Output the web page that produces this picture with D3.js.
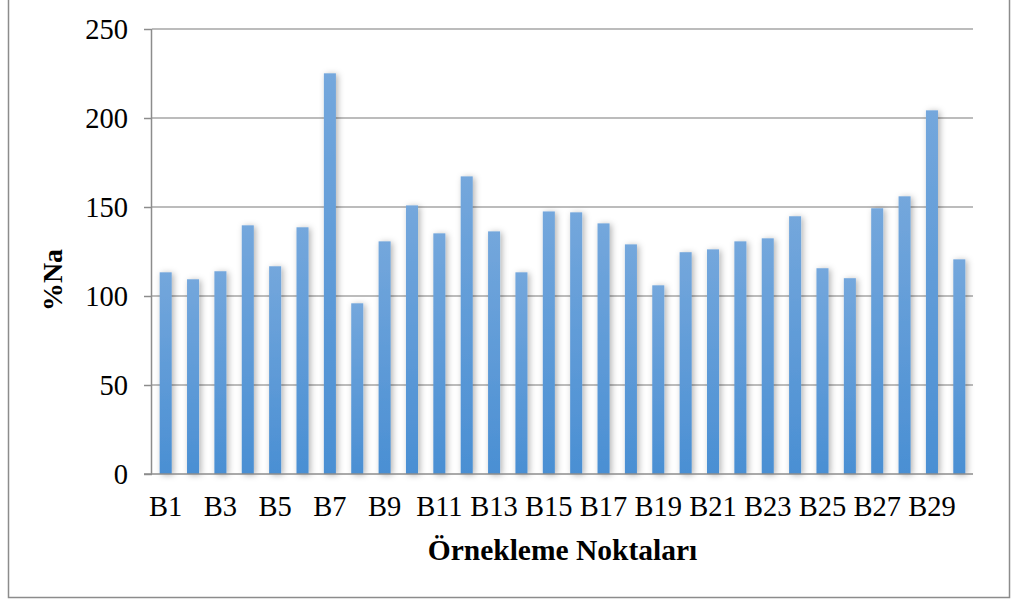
<!DOCTYPE html>
<html><head><meta charset="utf-8">
<script src="https://cdn.jsdelivr.net/npm/d3@7/dist/d3.min.js"></script>
<style>body{margin:0;background:#fff;}svg{display:block;}</style>
</head><body>
<svg id="c" width="1011" height="603"></svg>
<script>
const categories = ["B1","B2","B3","B4","B5","B6","B7","B8","B9","B10","B11","B12","B13","B14","B15","B16","B17","B18","B19","B20","B21","B22","B23","B24","B25","B26","B27","B28","B29","B30"];
const values = [113.3,109.4,113.9,139.7,116.7,138.6,225.1,95.9,130.7,150.9,135.2,167.2,136.3,113.3,147.5,147.0,140.8,129.0,106.0,124.6,126.2,130.7,132.4,144.8,115.6,110.0,149.3,156.0,204.3,120.6];
const yTicks = [0,50,100,150,200,250];
const xTickLabels = categories.filter((d,i)=>i%2===0);
const yTitle = "%Na";
const xTitle = "Örnekleme Noktaları";

const svg = d3.select("#c");
const font = "'Liberation Serif','Times New Roman',serif";
const L=152, R=973, T=29, B=474;

svg.append("rect").attr("x",8.5).attr("y",-2).attr("width",1001).attr("height",599.5)
  .attr("fill","#fff").attr("stroke","#8c8c8c").attr("stroke-width",1.5);

const defs = svg.append("defs");
const grad = defs.append("linearGradient").attr("id","bg").attr("x1",0).attr("y1",0).attr("x2",0).attr("y2",1);
grad.append("stop").attr("offset","0%").attr("stop-color","#74a7dc");
grad.append("stop").attr("offset","100%").attr("stop-color","#4a8fd3");
const f = defs.append("filter").attr("id","sh").attr("x","-100%").attr("y","-10%").attr("width","300%").attr("height","120%");
f.append("feDropShadow").attr("dx",2).attr("dy",1).attr("stdDeviation",3).attr("flood-color","#000").attr("flood-opacity",0.3);

const x = d3.scaleBand().domain(categories).range([L,R]).paddingInner(0.56).paddingOuter(0.28);
const y = d3.scaleLinear().domain([0,250]).range([B,T]);

// gridlines
svg.append("g").selectAll("line").data(yTicks.filter(d=>d>0)).join("line")
  .attr("x1",L).attr("x2",R).attr("y1",d=>y(d)).attr("y2",d=>y(d))
  .attr("stroke","#a6a6a6").attr("stroke-width",1.5);

// bars
svg.append("g").selectAll("rect").data(values).join("rect")
  .attr("x",(d,i)=>x(categories[i])).attr("width",x.bandwidth())
  .attr("y",d=>y(d)).attr("height",d=>B-y(d))
  .attr("fill","url(#bg)").attr("filter","url(#sh)");

// y axis
const ya = svg.append("g").attr("transform",`translate(${L},0)`)
  .call(d3.axisLeft(y).tickValues(yTicks).tickSize(8).tickPadding(16));
ya.select(".domain").attr("stroke","#8c8c8c").attr("stroke-width",1.5).attr("d",`M-0.5,${T}V${B}`);
ya.selectAll(".tick line").attr("stroke","#8c8c8c").attr("stroke-width",1.5);
ya.selectAll(".tick text").attr("font-family",font).attr("font-size",28.5).attr("fill","#000");

// x axis
const xa = svg.append("g").attr("transform",`translate(0,${B})`)
  .call(d3.axisBottom(x).tickValues(xTickLabels).tickSize(0).tickPadding(22));
xa.select(".domain").attr("stroke","#8c8c8c").attr("stroke-width",1.5).attr("d",`M${L-8},0H${R}`);
xa.selectAll(".tick text").attr("font-family",font).attr("font-size",28.5).attr("fill","#000");

// titles
svg.append("text").attr("x",(L+R)/2).attr("y",560).attr("text-anchor","middle")
  .attr("font-family",font).attr("font-weight","bold").attr("font-size",29.5).text(xTitle);
svg.append("text").attr("transform","translate(62,280) rotate(-90)").attr("text-anchor","middle")
  .attr("font-family",font).attr("font-weight","bold").attr("font-size",28).text(yTitle);
</script>
</body></html>
